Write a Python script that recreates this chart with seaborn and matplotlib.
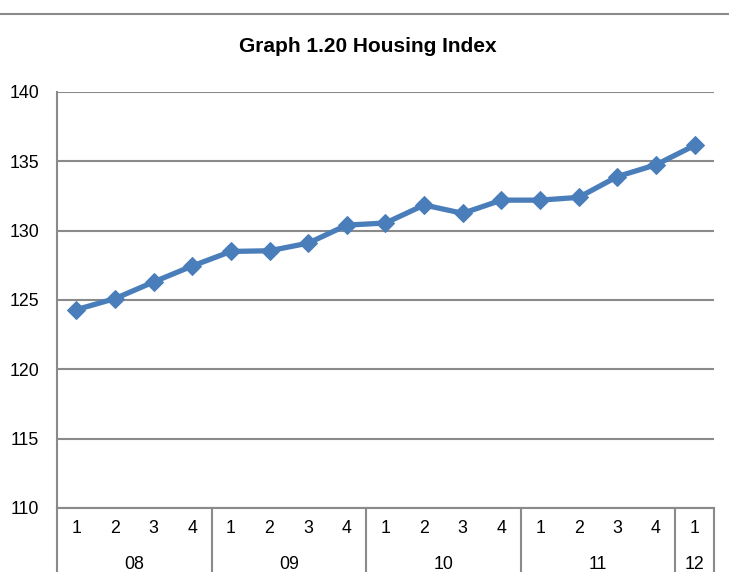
import seaborn as sns
import matplotlib.pyplot as plt
from matplotlib.lines import Line2D
import pandas as pd

# Housing index by quarter, 2008 Q1 - 2012 Q1
years = ["08", "09", "10", "11", "12"]
quarters_per_year = [4, 4, 4, 4, 1]
quarter_labels = ["1", "2", "3", "4"] * 4 + ["1"]
index_values = [124.3, 125.1, 126.3, 127.45, 128.5, 128.55, 129.1, 130.4, 130.55,
                131.85, 131.25, 132.2, 132.2, 132.4, 133.9, 134.75, 136.15]

df = pd.DataFrame({"pos": range(len(index_values)), "value": index_values})

sns.set_style("white")
plt.rcParams["font.family"] = ["Liberation Sans", "DejaVu Sans"]
plt.rcParams["text.color"] = "black"

grid_col = "#8a8a8a"
line_col = "#4a7ebb"
fs = 12.8

fig = plt.figure(figsize=(7.29, 5.72), dpi=100)
ax = fig.add_axes([0.0782, 0.1119, 0.9012, 0.7273])

sns.lineplot(data=df, x="pos", y="value", ax=ax, color=line_col, linewidth=3.8,
             marker="D", markersize=8.7, markeredgecolor=line_col, zorder=3)

ax.set_xlim(-0.5, len(index_values) - 0.5)
ax.set_ylim(110, 140)
ax.set_yticks(range(110, 141, 5))
ax.tick_params(axis="y", labelsize=fs, length=0, pad=13, colors="black")
ax.set_xticks([])
ax.set_xlabel("")
ax.set_ylabel("")
ax.yaxis.grid(True, color=grid_col, linewidth=1.5)
ax.set_axisbelow(True)

for side in ["top", "right"]:
    ax.spines[side].set_visible(False)
for side in ["left", "bottom"]:
    ax.spines[side].set_color(grid_col)
    ax.spines[side].set_linewidth(1.5)

# two-level category axis
trans = ax.get_xaxis_transform()
for i, q in enumerate(quarter_labels):
    ax.text(i, -0.05, q, transform=trans, ha="center", va="center", fontsize=fs,
            color="black")

start = 0
bounds = [-0.5]
for y, n in zip(years, quarters_per_year):
    mid = start + (n - 1) / 2
    ax.text(mid, -0.136, y, transform=trans, ha="center", va="center", fontsize=fs,
            color="black")
    start += n
    bounds.append(start - 0.5)

for b in bounds:
    ax.plot([b, b], [0, -0.2], transform=trans, color=grid_col, linewidth=1.5,
            clip_on=False)

fig.text(367.5 / 729, 1 - 47 / 572, "Graph 1.20 Housing Index", ha="center", va="center",
         fontsize=15, fontweight="bold", color="black")

fig.add_artist(Line2D([0, 1], [1 - 14 / 572, 1 - 14 / 572], transform=fig.transFigure,
                      color=grid_col, linewidth=1.5))

fig.savefig("out.png", dpi=100)
